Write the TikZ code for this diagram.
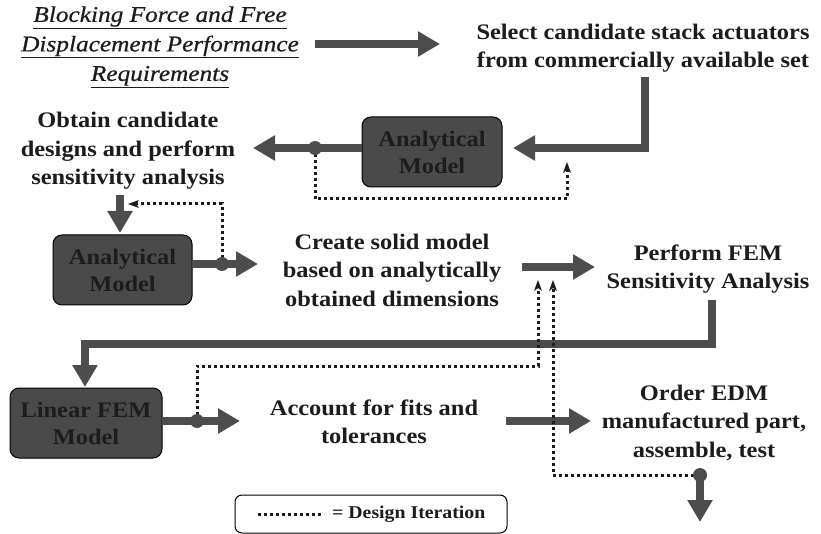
\documentclass[tikz,border=0pt]{standalone}
\usepackage{fontspec}
\setmainfont{Liberation Serif}[FakeStretch=1.1]
\newfontfamily\reqfont{Liberation Serif}[FakeStretch=1.13,FakeBold=0.6]
\usetikzlibrary{arrows.meta}
\definecolor{flowgray}{HTML}{4D4D4D}
\definecolor{boxgray}{HTML}{4A4A4A}
\definecolor{ink}{HTML}{1C1C1C}
\tikzset{
  lbl/.style={align=center, text=ink, font=\fontsize{22.2}{28.5}\selectfont\bfseries, inner sep=0pt},
  modelbox/.style={draw=black, line width=1pt, rounded corners=9pt, fill=boxgray,
    text=ink, align=center, font=\fontsize{22.2}{27}\selectfont\bfseries, inner sep=0pt},
  flow/.style={draw=flowgray, line width=8pt,
    -{Triangle[length=22pt,width=24pt]}},
  iter/.style={draw=ink, line width=3pt, dash pattern=on 3pt off 3pt},
  iterarrow/.style={iter, -{Stealth[length=11pt,width=8pt,inset=3pt,line width=0pt]}},
  junction/.style={circle, fill=flowgray, minimum size=14pt, inner sep=0pt},
}
\begin{document}
\begin{tikzpicture}[x=1pt,y=-1pt]
\useasboundingbox (0,0) rectangle (821,534);
\fill[white] (0,0) rectangle (821,534);

% --- text blocks ---
\node[lbl, font=\reqfont\fontsize{22.4}{29.5}\selectfont\itshape] (req) at (160,47)
  {\underline{Blocking Force and Free}\\\underline{Displacement Performance}\\\underline{Requirements}};
\node[lbl] (sel) at (643,48) {Select candidate stack actuators\\from commercially available set};
\node[lbl] (obt) at (128,151) {Obtain candidate\\designs and perform\\sensitivity analysis};
\node[lbl] (solid) at (392,270) {Create solid model\\based on analytically\\obtained dimensions};
\node[lbl] (fem) at (708,269) {Perform FEM\\Sensitivity Analysis};
\node[lbl] (fits) at (374,422) {Account for fits and\\tolerances};
\node[lbl] (edm) at (704,423) {Order EDM\\manufactured part,\\assemble, test};

% --- model boxes ---
\node[modelbox, minimum width=140pt, minimum height=70pt] (am1) at (432,152) {Analytical\\Model};
\node[modelbox, minimum width=139pt, minimum height=70pt] (am2) at (122.5,270) {Analytical\\Model};
\node[modelbox, minimum width=152pt, minimum height=70pt] (lfem) at (86,423) {Linear FEM\\Model};

% --- junction points ---
\coordinate (reqE) at (315,44);
\coordinate (selW) at (440,44);
\coordinate (selS) at (645,77);
\coordinate (am1in) at (513,148);
\coordinate (am1out) at (362,148);
\coordinate (obtE) at (253,148);
\coordinate (j1) at (315,148);
\coordinate (it1) at (567,162);
\coordinate (obtS) at (120,195);
\coordinate (am2N) at (120,233);
\coordinate (am2out) at (192,264);
\coordinate (j2) at (222,264);
\coordinate (solidW) at (258,264);
\coordinate (it2) at (128,204);
\coordinate (solidE) at (522,267);
\coordinate (femW) at (595,267);
\coordinate (femS) at (712,300);
\coordinate (lfemN) at (85,387);
\coordinate (lfemout) at (162,421);
\coordinate (j3) at (197,421);
\coordinate (fitsW) at (240,421);
\coordinate (fitsE) at (506,421);
\coordinate (edmW) at (591,421);
\coordinate (itA) at (538,280);
\coordinate (itB) at (553,280);
\coordinate (j4) at (700,475);
\coordinate (exit) at (700,522);

% --- main flow ---
\draw[flow] (reqE) -- (selW);
\draw[flow] (selS) |- (am1in);
\draw[flow] (am1out) -- (obtE);
\draw[flow] (obtS) -- (am2N);
\draw[flow] (am2out) -- (solidW);
\draw[flow] (solidE) -- (femW);
\draw[flow] (femS) -- (712,344) -| (lfemN);
\draw[flow] (lfemout) -- (fitsW);
\draw[flow] (fitsE) -- (edmW);
\draw[flow] (j4) -- (exit);

% --- design iteration loops ---
\draw[iterarrow] (j1) |- (567,199) -- (it1);
\draw[iterarrow] (j2) |- (it2);
\draw[iterarrow] (j3) |- (538,366) -- (itA);
\draw[iterarrow] (j4) -| (itB);

\node[junction] at (j1) {};
\node[junction] at (j2) {};
\node[junction] at (j3) {};
\node[junction] at (j4) {};

% --- legend ---
\draw[black, line width=1pt, rounded corners=7pt] (235,495) rectangle (507,533);
\coordinate (legA) at (258,514);
\coordinate (legB) at (324,514);
\draw[iter] (legA) -- (legB);
\node[anchor=west, text=ink, font=\fontsize{18}{20}\selectfont\bfseries, inner sep=0pt] (legtxt) at (332,514) {= Design Iteration};
\end{tikzpicture}
\end{document}
